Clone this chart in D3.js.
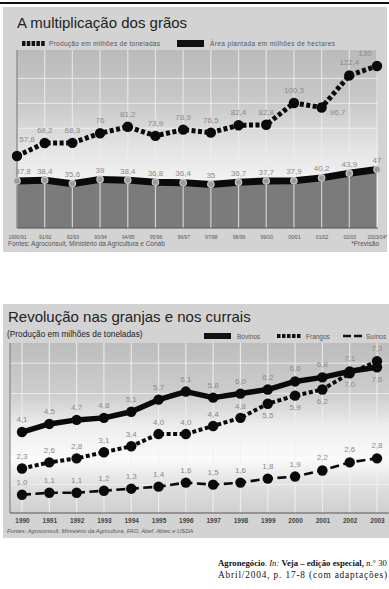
<!DOCTYPE html>
<html><head><meta charset="utf-8">
<script src="https://cdn.jsdelivr.net/npm/d3@7"></script>
<style>body{margin:0;background:#fff}svg{display:block}</style>
</head><body>
<svg id="c" width="389" height="589"></svg>
<script>
// ---- data: chart 1 ----
const safras = ["1990/91","91/92","92/93","93/94","94/95","95/96","96/97","97/98","98/99","99/00","00/01","01/02","02/03","2003/04*"];
const producao = [57.8,68.2,68.3,76,81.2,73.9,78.9,76.5,82.4,82.8,100.3,96.7,122.4,130];
const area = [37.8,38.4,35.6,39,38.4,36.8,36.4,35,36.7,37.7,37.9,40.2,43.9,47];
// ---- data: chart 2 ----
const anos = ["1990","1991","1992","1993","1994","1995","1996","1997","1998","1999","2000","2001","2002","2003"];
const bovinos = [4.1,4.5,4.7,4.8,5.1,5.7,6.1,5.8,6.0,6.2,6.6,6.8,7.1,7.3];
const frangos = [2.3,2.6,2.8,3.1,3.4,4.0,4.0,4.4,4.8,5.5,5.9,6.2,7.0,7.6];
const suinos = [1.0,1.1,1.1,1.2,1.3,1.4,1.6,1.5,1.6,1.8,1.9,2.2,2.6,2.8];

const svg = d3.select("#c");
const fmt = v => String(v).replace(".", ",");
const sans = "Liberation Sans, Arial, sans-serif";
const defs = svg.append("defs");

function grad(id, stops){
  const g = defs.append("linearGradient").attr("id", id).attr("x1",0).attr("x2",0).attr("y1",0).attr("y2",1);
  stops.forEach(s => g.append("stop").attr("offset", s[0]).attr("stop-color", s[1]));
}
grad("g1", [[0,"#bababa"],[0.3,"#c9c9c9"],[0.55,"#e4e4e4"],[0.75,"#f3f3f3"],[1,"#e6e6e6"]]);
grad("g2", [[0,"#bdbdbd"],[0.3,"#cdcdcd"],[0.5,"#eeeeee"],[0.68,"#fbfbfb"],[0.85,"#dedede"],[1,"#cfcfcf"]]);

// top rule
svg.append("rect").attr("x",0).attr("y",2).attr("width",389).attr("height",2).attr("fill","#111");

// ================= CHART 1 =================
svg.append("rect").attr("x",3).attr("y",7).attr("width",384).attr("height",245).attr("fill","#d3d3d3");
svg.append("text").attr("x",17).attr("y",28).attr("font-family",sans).attr("font-size",15).attr("fill","#222").text("A multiplicação dos grãos");

// legend 1
svg.append("line").attr("x1",22).attr("x2",45).attr("y1",43.5).attr("y2",43.5).attr("stroke","#111").attr("stroke-width",5).attr("stroke-dasharray","3.5,1.3");
svg.append("text").attr("x",49).attr("y",46).attr("font-family",sans).attr("font-size",6.5).attr("fill","#555").attr("textLength",111).text("Produção em milhões de toneladas");
svg.append("rect").attr("x",177).attr("y",40).attr("width",27).attr("height",7).attr("fill","#111");
svg.append("text").attr("x",210).attr("y",46).attr("font-family",sans).attr("font-size",6.5).attr("fill","#555").attr("textLength",125).text("Área plantada em milhões de hectares");

const x1 = d3.scalePoint().domain(safras).range([17,377]);
const y1 = d3.scaleLinear().domain([0,142.8]).range([228,50]);
svg.append("rect").attr("x",17).attr("y",50).attr("width",361).attr("height",178).attr("fill","url(#g1)");
[40,80,100,120].forEach(v => svg.append("line").attr("x1",17).attr("x2",378).attr("y1",y1(v)).attr("y2",y1(v)).attr("stroke","#f4f4f4").attr("stroke-width",0.8));
const d1 = safras.map((s,i)=>({s, p:producao[i], a:area[i]}));
svg.append("path").datum(d1).attr("fill","#7b7b7b")
  .attr("d", d3.area().x(d=>x1(d.s)).y0(y1(0)).y1(d=>y1(d.a)));
svg.append("g").selectAll("line").data(safras).join("line")
  .attr("x1",d=>x1(d)).attr("x2",d=>x1(d)).attr("y1",50).attr("y2",228)
  .attr("stroke","#ededed").attr("stroke-opacity",0.75).attr("stroke-width",1.2);
svg.append("line").attr("x1",17).attr("x2",17).attr("y1",50).attr("y2",228).attr("stroke","#666").attr("stroke-width",1);
svg.append("line").attr("x1",17).attr("x2",378).attr("y1",228).attr("y2",228).attr("stroke","#555").attr("stroke-width",1);
svg.append("path").datum(d1).attr("fill","none").attr("stroke","#0a0a0a").attr("stroke-width",7)
  .attr("d", d3.line().x(d=>x1(d.s)).y(d=>y1(d.a)));
svg.append("g").selectAll("circle").data(d1).join("circle")
  .attr("cx",d=>x1(d.s)).attr("cy",d=>y1(d.a)).attr("r",3.2).attr("fill","#9a9a9a").attr("stroke","#c8c8c8").attr("stroke-width",1.2);
svg.append("g").selectAll("text").data(d1).join("text")
  .attr("x",d=>x1(d.s)+ (d.s===safras[0]?6:0)).attr("y",d=>y1(d.a)-6.5)
  .attr("text-anchor","middle").attr("font-family",sans).attr("font-size",8).attr("fill","#8a8a8a").text(d=>fmt(d.a));
svg.append("path").datum(d1).attr("fill","none").attr("stroke","#0a0a0a").attr("stroke-width",5).attr("stroke-dasharray","4,2.5")
  .attr("d", d3.line().x(d=>x1(d.s)).y(d=>y1(d.p)));
svg.append("g").selectAll("circle").data(d1).join("circle")
  .attr("cx",d=>x1(d.s)).attr("cy",d=>y1(d.p)).attr("r",5.2).attr("fill","#0a0a0a");
svg.append("g").selectAll("text").data(d1).join("text")
  .attr("x",(d,i)=> x1(d.s) + (i===0?10 : i===11?16 : i===13?-12 : 0))
  .attr("y",(d,i)=> y1(d.p) + (i===0?-14 : i===11?8 : -10))
  .attr("text-anchor","middle").attr("font-family",sans).attr("font-size",8).attr("fill","#8a8a8a").text(d=>fmt(d.p));
svg.append("g").call(d3.axisBottom(x1).tickSize(0).tickPadding(0))
  .attr("transform","translate(0,235)")
  .call(g=>g.select(".domain").remove())
  .call(g=>g.selectAll("text").attr("font-family",sans).attr("font-size",5).attr("fill","#555"));
svg.append("text").attr("x",8).attr("y",246).attr("font-family",sans).attr("font-size",6.5).attr("fill","#555").text("Fontes: Agroconsult, Ministério da Agricultura e Conab");
svg.append("text").attr("x",379).attr("y",246).attr("text-anchor","end").attr("font-family",sans).attr("font-size",6.5).attr("fill","#555").text("*Previsão");

// ================= CHART 2 =================
svg.append("rect").attr("x",3).attr("y",304).attr("width",386).attr("height",234).attr("fill","#d3d3d3");
svg.append("text").attr("x",8).attr("y",322).attr("font-family",sans).attr("font-size",15).attr("fill","#222").text("Revolução nas granjas e nos currais");
svg.append("text").attr("x",7).attr("y",337).attr("font-family",sans).attr("font-size",8.3).attr("fill","#222").text("(Produção em milhões de toneladas)");
svg.append("rect").attr("x",204).attr("y",333).attr("width",27).attr("height",6).attr("fill","#111");
svg.append("text").attr("x",237).attr("y",338.5).attr("font-family",sans).attr("font-size",6.5).attr("fill","#555").text("Bovinos");
svg.append("line").attr("x1",277).attr("x2",302).attr("y1",336).attr("y2",336).attr("stroke","#111").attr("stroke-width",4).attr("stroke-dasharray","3.5,1.5");
svg.append("text").attr("x",306).attr("y",338.5).attr("font-family",sans).attr("font-size",6.5).attr("fill","#555").text("Frangos");
svg.append("line").attr("x1",343).attr("x2",363).attr("y1",336).attr("y2",336).attr("stroke","#111").attr("stroke-width",2.5).attr("stroke-dasharray","8,3");
svg.append("text").attr("x",366).attr("y",338.5).attr("font-family",sans).attr("font-size",6.5).attr("fill","#555").text("Suínos");

const x2 = d3.scalePoint().domain(anos).range([22,377]);
const y2 = d3.scaleLinear().domain([0,8.5]).range([515,343]);
svg.append("rect").attr("x",10).attr("y",343).attr("width",379).attr("height",170).attr("fill","url(#g2)");
[1.5,3,4.5,6,7.5].forEach(v => svg.append("line").attr("x1",10).attr("x2",389).attr("y1",y2(v)).attr("y2",y2(v)).attr("stroke","#f2f2f2").attr("stroke-width",0.8));
svg.append("g").selectAll("line").data(anos).join("line")
  .attr("x1",d=>x2(d)).attr("x2",d=>x2(d)).attr("y1",343).attr("y2",513)
  .attr("stroke","#f0f0f0").attr("stroke-opacity",0.8).attr("stroke-width",1.2);
svg.append("line").attr("x1",10).attr("x2",10).attr("y1",343).attr("y2",513).attr("stroke","#777").attr("stroke-width",1);
svg.append("line").attr("x1",10).attr("x2",389).attr("y1",513).attr("y2",513).attr("stroke","#555").attr("stroke-width",1);

const d2 = anos.map((a,i)=>({a, b:bovinos[i], f:frangos[i], s:suinos[i]}));
const series = [
  {k:"s", w:2.6, dash:"9,4.5"},
  {k:"f", w:4, dash:"4,2.5"},
  {k:"b", w:5.5, dash:null}
];
series.forEach(se=>{
  svg.append("path").datum(d2).attr("fill","none").attr("stroke","#0a0a0a").attr("stroke-width",se.w)
    .attr("stroke-dasharray",se.dash).attr("stroke-linejoin","round")
    .attr("d", d3.line().x(d=>x2(d.a)).y(d=>y2(d[se.k])));
  svg.append("g").selectAll("circle").data(d2).join("circle")
    .attr("cx",d=>x2(d.a)).attr("cy",d=>y2(d[se.k])).attr("r",5.2).attr("fill","#0a0a0a");
});
function labY(d,k,i){
  if(k==="b") return Math.min(y2(d.b), y2(d.f)) - 10;
  if(k==="f"){
    if(d.f > d.b) return y2(d.b) + 15;
    return i >= 9 ? y2(d.f) + 14 : y2(d.f) - 9;
  }
  return y2(d.s) - 10;
}
["b","f","s"].forEach(k=>{
  svg.append("g").selectAll("text").data(d2).join("text")
    .attr("x",d=>x2(d.a)).attr("y",(d,i)=>labY(d,k,i))
    .attr("text-anchor","middle").attr("font-family",sans).attr("font-size",8).attr("fill","#8a8a8a")
    .text(d=>fmt(d[k].toFixed(1)));
});
svg.append("g").call(d3.axisBottom(x2).tickSize(0).tickPadding(0))
  .attr("transform","translate(0,518)")
  .call(g=>g.select(".domain").remove())
  .call(g=>g.selectAll("text").attr("font-family",sans).attr("font-size",6.5).attr("font-weight","bold").attr("fill","#444"));
svg.append("text").attr("x",7).attr("y",533).attr("font-family",sans).attr("font-size",5.8).attr("font-style","italic").attr("fill","#555").text("Fontes: Agroconsult, Ministério da Agricultura, FAO, Abef, Abiec e USDA");

// citation
const serif = "Liberation Serif, Times New Roman, serif";
const t1 = svg.append("text").attr("x",218).attr("y",566).attr("font-family",serif).attr("font-size",8.6).attr("fill","#111")
  .attr("textLength",169).attr("lengthAdjust","spacingAndGlyphs");
t1.append("tspan").attr("font-weight","bold").text("Agronegócio");
t1.append("tspan").text(". ");
t1.append("tspan").attr("font-style","italic").text("In:");
t1.append("tspan").attr("font-weight","bold").text(" Veja – edição especial,");
t1.append("tspan").text(" n.° 30");
svg.append("text").attr("x",218).attr("y",578).attr("font-family",serif).attr("font-size",9.3).attr("fill","#111")
  .attr("textLength",169).attr("lengthAdjust","spacing").text("Abril/2004,  p.  17-8  (com  adaptações)");
</script>
</body></html>
